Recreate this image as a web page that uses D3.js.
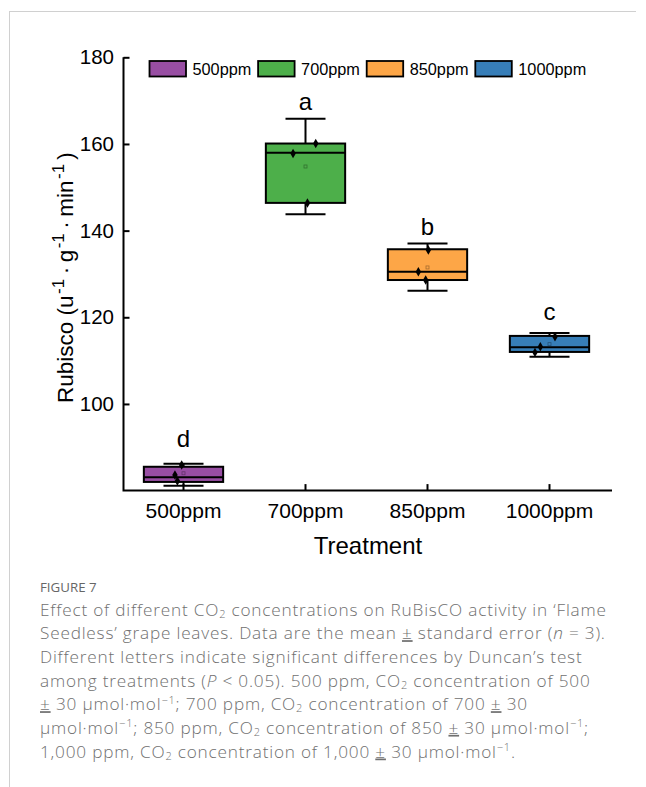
<!DOCTYPE html>
<html>
<head>
<meta charset="utf-8">
<script src="https://cdn.jsdelivr.net/npm/d3@7"></script>
<style>
  html, body { margin: 0; padding: 0; background: #fff; }
  svg { display: block; }
</style>
</head>
<body>
<svg id="chart" width="646" height="787"></svg>
<script>
// ---- data ----
const categories = ["500ppm", "700ppm", "850ppm", "1000ppm"];
const whiskerLow  = [81.1, 143.8, 126.1, 110.9];
const q1          = [82.0, 146.4, 128.6, 112.0];
const median      = [83.1, 158.0, 130.5, 113.1];
const q3          = [85.5, 160.1, 135.7, 115.7];
const whiskerHigh = [86.2, 165.8, 137.0, 116.4];
const means       = [84.0, 154.8, 131.5, 113.8];
const points = [
  [85.9, 83.6, 82.2],
  [160.1, 157.8, 146.4],
  [135.5, 130.5, 128.6],
  [115.5, 113.2, 111.9]
];
const jitter = [
  [-0.015, -0.07, -0.05],
  [0.084, -0.102, 0.016],
  [0.007, -0.075, -0.015],
  [0.045, -0.075, -0.119]
];
const letters = ["d", "a", "b", "c"];
const letterValue = [90.1, 167.8, 139.0, 119.4];
const yTicks = [100, 120, 140, 160, 180];
const colors = ["#984EA3", "#4DAF4A", "#FDA647", "#377EB8"];

// ---- layout ----
const svg = d3.select("#chart");
const FONT = "'Liberation Sans', Arial, sans-serif";
const axisX = 123.5, axisBottom = 490.6, axisRight = 612;

const y = d3.scaleLinear().domain([80, 180]).range([490.6, 57.3]);
const x = d3.scaleBand().domain(categories).range([122.5, 610.5]).padding(0);
const cx = c => x(c) + x.bandwidth() / 2;
const boxW = x.step() * 0.65, capW = 40;

// page frame
svg.append("line").attr("x1", 9).attr("x2", 636).attr("y1", 11.5).attr("y2", 11.5)
  .attr("stroke", "#d0d0d0").attr("stroke-width", 1);
svg.append("line").attr("x1", 9.5).attr("x2", 9.5).attr("y1", 11).attr("y2", 787)
  .attr("stroke", "#d0d0d0").attr("stroke-width", 1);

// y axis
const gy = svg.append("g").attr("transform", `translate(${axisX},0)`)
  .call(d3.axisLeft(y).tickValues(yTicks).tickSizeInner(-6).tickSizeOuter(0).tickPadding(9.5));
gy.select(".domain").remove();
gy.selectAll(".tick line").attr("stroke", "#000").attr("stroke-width", 2);
gy.selectAll(".tick text").attr("font-family", FONT).attr("font-size", 20.5).attr("fill", "#000");

// x axis
const gx = svg.append("g").attr("transform", `translate(0,${axisBottom})`)
  .call(d3.axisBottom(x).tickSizeInner(-6.5).tickSizeOuter(0).tickPadding(12.5));
gx.select(".domain").remove();
gx.selectAll(".tick line").attr("stroke", "#000").attr("stroke-width", 2);
gx.selectAll(".tick text").attr("font-family", FONT).attr("font-size", 21).attr("fill", "#000");

// axis lines
svg.append("path")
  .attr("d", `M${axisX},${y(180)}V${axisBottom}H${axisRight}`)
  .attr("fill", "none").attr("stroke", "#000").attr("stroke-width", 2);

// boxes
const groups = svg.append("g").selectAll("g").data(categories).join("g");
groups.each(function (c, i) {
  const g = d3.select(this);
  const xc = cx(c);
  g.append("line").attr("x1", xc).attr("x2", xc).attr("y1", y(whiskerHigh[i])).attr("y2", y(q3[i]))
    .attr("stroke", "#000").attr("stroke-width", 2);
  g.append("line").attr("x1", xc).attr("x2", xc).attr("y1", y(q1[i])).attr("y2", y(whiskerLow[i]))
    .attr("stroke", "#000").attr("stroke-width", 2);
  [whiskerHigh[i], whiskerLow[i]].forEach(v => {
    g.append("line").attr("x1", xc - capW / 2).attr("x2", xc + capW / 2).attr("y1", y(v)).attr("y2", y(v))
      .attr("stroke", "#000").attr("stroke-width", 2);
  });
  g.append("rect").attr("x", xc - boxW / 2).attr("width", boxW)
    .attr("y", y(q3[i])).attr("height", y(q1[i]) - y(q3[i]))
    .attr("fill", colors[i]).attr("stroke", "#000").attr("stroke-width", 2);
  g.append("line").attr("x1", xc - boxW / 2).attr("x2", xc + boxW / 2)
    .attr("y1", y(median[i])).attr("y2", y(median[i]))
    .attr("stroke", "#000").attr("stroke-width", 2);
  g.append("rect").attr("x", xc - 1.5).attr("y", y(means[i]) - 1.5).attr("width", 3).attr("height", 3)
    .attr("fill", "none").attr("stroke", d3.color(colors[i]).darker(1.2)).attr("stroke-width", 0.8);
  points[i].forEach((v, j) => {
    g.append("path").attr("d", d3.symbol(d3.symbolDiamond, 26)())
      .attr("transform", `translate(${xc + jitter[i][j] * x.step()},${y(v)})`)
      .attr("fill", "#000");
  });
  g.append("text").attr("x", xc).attr("y", y(letterValue[i]))
    .attr("text-anchor", "middle").attr("font-family", FONT).attr("font-size", 24)
    .attr("fill", "#000").text(letters[i]);
});

// legend
const legend = svg.append("g").attr("transform", "translate(149.5,61)");
categories.forEach((c, i) => {
  const lg = legend.append("g").attr("transform", `translate(${i * 108.6},0)`);
  lg.append("rect").attr("width", 36.5).attr("height", 15.5)
    .attr("fill", colors[i]).attr("stroke", "#000").attr("stroke-width", 1.8);
  lg.append("text").attr("x", 43).attr("y", 13.5).attr("font-family", FONT).attr("font-size", 16.3)
    .attr("fill", "#000").text(c);
});

// axis titles
svg.append("text").attr("x", 368).attr("y", 554).attr("text-anchor", "middle")
  .attr("font-family", FONT).attr("font-size", 24).attr("fill", "#000").text("Treatment");

const yt = svg.append("text").attr("transform", "translate(73,403) rotate(-90)")
  .attr("font-family", FONT).attr("font-size", 22.5).attr("fill", "#000");
// [text, isSuperscript, extra gap before]
const titleParts = [
  ["Rubisco (u", false, 0], ["-1", true, 1.5], ["\u00B7", false, 4.5], ["g", false, 4.5],
  ["-1", true, 1.5], ["\u00B7", false, 4.5], ["min", false, 4.5], ["-1", true, 1.5], [")", false, 4]
];
let tShift = 0;
titleParts.forEach(([t, sup, gap]) => {
  const ts = yt.append("tspan").text(t);
  if (gap) ts.attr("dx", gap);
  const target = sup ? -9 : 0;
  if (sup) ts.attr("font-size", 17);
  if (target !== tShift) { ts.attr("dy", target - tShift); tShift = target; }
});

// caption
const CAP = "'Open Sans', 'Noto Sans', sans-serif";
svg.append("text").attr("x", 40).attr("y", 591.5).attr("font-family", CAP).attr("font-size", 13.3)
  .attr("fill", "#666").attr("font-weight", 500).text("FIGURE 7");

const capLines = [
  [["Effect of different CO"], ["2", "sub"], [" concentrations on RuBisCO activity in \u2018Flame"]],
  [["Seedless\u2019 grape leaves. Data are the mean "], ["\u00B1", "pm"], [" standard error ("], ["n", "it"], [" = 3)."]],
  [["Different letters indicate significant differences by Duncan\u2019s test"]],
  [["among treatments ("], ["P", "it"], [" < 0.05). 500 ppm, CO"], ["2", "sub"], [" concentration of 500"]],
  [["\u00B1", "pm"], [" 30 \u00B5mol\u00B7mol"], ["\u22121", "sup"], ["; 700 ppm, CO"], ["2", "sub"], [" concentration of 700 "], ["\u00B1", "pm"], [" 30"]],
  [["\u00B5mol\u00B7mol"], ["\u22121", "sup"], ["; 850 ppm, CO"], ["2", "sub"], [" concentration of 850 "], ["\u00B1", "pm"], [" 30 \u00B5mol\u00B7mol"], ["\u22121", "sup"], [";"]],
  [["1,000 ppm, CO"], ["2", "sub"], [" concentration of 1,000 "], ["\u00B1", "pm"], [" 30 \u00B5mol\u00B7mol"], ["\u22121", "sup"], ["."]]
];
capLines.forEach((parts, li) => {
  const t = svg.append("text").attr("x", 40).attr("y", 615.5 + li * 23.67)
    .attr("font-family", CAP).attr("font-size", 17.2).attr("fill", "#707070").attr("font-weight", 300)
    .attr("letter-spacing", 0.8);
  let shift = 0;
  parts.forEach(([s, kind]) => {
    const ts = t.append("tspan").text(s);
    let target = 0;
    if (kind === "sub") { ts.attr("font-size", 11); target = 2; }
    else if (kind === "sup") { ts.attr("font-size", 11); target = -6.5; }
    else if (kind === "it") ts.attr("font-style", "italic");
    else if (kind === "pm") ts.attr("text-decoration", "underline");
    if (target !== shift) { ts.attr("dy", target - shift); shift = target; }
  });
});
</script>
</body>
</html>
